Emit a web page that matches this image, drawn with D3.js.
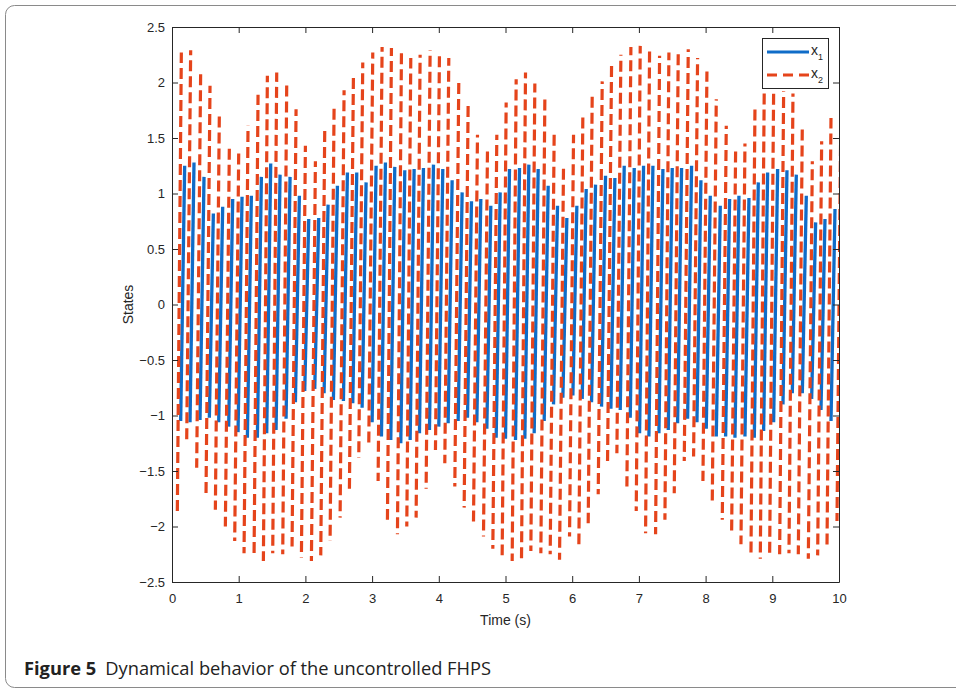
<!DOCTYPE html>
<html>
<head>
<meta charset="utf-8">
<script src="https://cdn.jsdelivr.net/npm/d3@7/dist/d3.min.js"></script>
<style>
  body { margin: 0; background: #fff; }
  text { font-family: "Liberation Sans", Arial, sans-serif; }
</style>
</head>
<body>
<svg id="chart" width="956" height="691"></svg>
<script>
// each fast swing of a state: time (s), top and bottom value
var x1Time = [0.16, 0.30, 0.45, 0.59, 0.73, 0.88, 1.02, 1.16, 1.31, 1.45, 1.59, 1.74, 1.88, 2.02, 2.17, 2.31, 2.45, 2.60, 2.74, 2.88, 3.03, 3.17, 3.31, 3.46, 3.60, 3.74, 3.89, 4.03, 4.17, 4.32, 4.46, 4.60, 4.75, 4.89, 5.03, 5.18, 5.32, 5.46, 5.61, 5.75, 5.89, 6.04, 6.18, 6.32, 6.47, 6.61, 6.75, 6.90, 7.04, 7.18, 7.33, 7.47, 7.61, 7.76, 7.90, 8.04, 8.19, 8.33, 8.47, 8.62, 8.76, 8.90, 9.05, 9.19, 9.33, 9.48, 9.62, 9.76, 9.91, 10.05];
var x1High = [1.25, 1.28, 1.15, 0.82, 0.88, 0.95, 0.97, 0.98, 1.15, 1.27, 1.17, 1.15, 0.98, 0.77, 0.78, 0.90, 1.07, 1.19, 1.19, 1.10, 1.25, 1.28, 1.24, 1.21, 1.22, 1.23, 1.26, 1.22, 1.12, 1.01, 0.93, 0.95, 0.89, 1.01, 1.22, 1.23, 1.26, 1.22, 1.07, 0.89, 0.78, 0.89, 1.04, 1.08, 1.16, 1.14, 1.25, 1.23, 1.25, 1.25, 1.22, 1.23, 1.23, 1.25, 1.12, 0.98, 0.89, 0.95, 0.98, 0.96, 1.10, 1.19, 1.22, 1.21, 1.17, 0.98, 0.74, 0.77, 0.86, 0.97];
var x1Low = [-1.05, -1.06, -1.04, -1.02, -1.06, -1.10, -1.15, -1.20, -1.20, -1.16, -1.13, -1.03, -0.88, -0.78, -0.76, -0.80, -0.86, -0.87, -0.89, -0.93, -1.06, -1.19, -1.22, -1.25, -1.22, -1.16, -1.13, -1.10, -1.07, -1.05, -1.02, -1.06, -1.12, -1.20, -1.21, -1.22, -1.21, -1.16, -1.05, -0.90, -0.84, -0.82, -0.85, -0.88, -0.92, -0.94, -0.95, -1.02, -1.16, -1.19, -1.16, -1.13, -1.07, -1.03, -1.06, -1.12, -1.19, -1.19, -1.20, -1.19, -1.20, -1.14, -1.06, -0.90, -0.80, -0.80, -0.85, -0.95, -1.05, -0.95];

var x2Time = [0.11, 0.25, 0.40, 0.54, 0.68, 0.83, 0.97, 1.11, 1.26, 1.40, 1.54, 1.69, 1.83, 1.97, 2.12, 2.26, 2.40, 2.55, 2.69, 2.83, 2.98, 3.12, 3.26, 3.41, 3.55, 3.69, 3.84, 3.98, 4.12, 4.27, 4.41, 4.55, 4.70, 4.84, 4.98, 5.13, 5.27, 5.41, 5.56, 5.70, 5.84, 5.99, 6.13, 6.27, 6.42, 6.56, 6.70, 6.85, 6.99, 7.13, 7.28, 7.42, 7.56, 7.71, 7.85, 7.99, 8.13, 8.28, 8.42, 8.56, 8.71, 8.85, 8.99, 9.14, 9.28, 9.42, 9.57, 9.71, 9.85, 10.00];
var x2High = [2.27, 2.29, 2.12, 1.97, 1.73, 1.43, 1.36, 1.61, 1.89, 2.06, 2.09, 1.99, 1.76, 1.43, 1.29, 1.58, 1.77, 1.93, 2.06, 2.18, 2.27, 2.32, 2.31, 2.27, 2.22, 2.25, 2.29, 2.26, 2.22, 2.03, 1.82, 1.53, 1.40, 1.53, 1.82, 2.03, 2.09, 1.99, 1.85, 1.56, 1.26, 1.53, 1.73, 1.89, 2.01, 2.15, 2.25, 2.32, 2.33, 2.29, 2.24, 2.27, 2.28, 2.30, 2.22, 2.10, 1.85, 1.61, 1.38, 1.45, 1.76, 2.00, 1.92, 1.92, 1.90, 1.62, 1.29, 1.47, 1.68, 1.85];
var x2Low = [-1.86, -1.25, -1.47, -1.70, -1.85, -2.00, -2.13, -2.24, -2.28, -2.31, -2.24, -2.25, -2.18, -2.28, -2.31, -2.26, -2.13, -1.92, -1.66, -1.38, -1.27, -1.59, -1.94, -2.07, -2.00, -1.92, -1.66, -1.31, -1.43, -1.64, -1.83, -1.97, -2.09, -2.20, -2.26, -2.31, -2.29, -2.22, -2.24, -2.25, -2.30, -2.09, -2.16, -1.97, -1.71, -1.41, -1.34, -1.64, -1.86, -2.06, -2.07, -1.94, -1.70, -1.41, -1.37, -1.59, -1.77, -1.94, -2.06, -2.16, -2.26, -2.29, -2.26, -2.25, -2.24, -2.25, -2.29, -2.26, -2.18, -1.95];

var xTicks = [0, 1, 2, 3, 4, 5, 6, 7, 8, 9, 10];
var yTicks = [-2.5, -2, -1.5, -1, -0.5, 0, 0.5, 1, 1.5, 2, 2.5];
var seriesNames = ["1", "2"];   // subscripts of x
var xTitle = "Time (s)";
var yTitle = "States";
var captionLabel = "Figure 5";
var captionText = "Dynamical behavior of the uncontrolled FHPS";

var blue = "#0f6cc8", red = "#e5441b";
var dashOn = 11, dashOff = 5;

var svg = d3.select("#chart");
var plotLeft = 172, plotRight = 839, plotTop = 27, plotBottom = 582;

var x = d3.scaleLinear().domain([0, 10]).range([plotLeft, plotRight]);
var y = d3.scaleLinear().domain([-2.5, 2.5]).range([plotBottom, plotTop]);

// figure frame
svg.append("rect")
    .attr("x", 5.5).attr("y", 5.5)
    .attr("width", 1000).attr("height", 682)
    .attr("rx", 9)
    .attr("fill", "none")
    .attr("stroke", "#8a8a8a")
    .attr("stroke-width", 1);

svg.append("clipPath").attr("id", "plotclip")
  .append("rect")
    .attr("x", plotLeft).attr("y", plotTop)
    .attr("width", plotRight - plotLeft).attr("height", plotBottom - plotTop);

// every swing is one stroke, rising slightly from bottom-left to top-right;
// the dash phase runs on from stroke to stroke like one long line
function swings(times, highs, lows) {
  var run = 0;
  return times.map(function(t, i) {
    var pts = [[t - 0.03, lows[i]], [t + 0.03, highs[i]]];
    var s = { pts: pts, offset: -run };
    run += Math.abs(y(lows[i]) - y(highs[i])) * 1.37;
    return s;
  });
}

var line = d3.line()
    .x(function(d) { return x(d[0]); })
    .y(function(d) { return y(d[1]); });

var lines = svg.append("g").attr("clip-path", "url(#plotclip)");

lines.append("g").selectAll("path")
    .data(swings(x1Time, x1High, x1Low))
    .join("path")
    .attr("d", function(d) { return line(d.pts); })
    .attr("fill", "none")
    .attr("stroke", blue)
    .attr("stroke-width", 3.3);

lines.append("g").selectAll("path")
    .data(swings(x2Time, x2High, x2Low))
    .join("path")
    .attr("d", function(d) { return line(d.pts); })
    .attr("fill", "none")
    .attr("stroke", red)
    .attr("stroke-width", 3.2)
    .attr("stroke-dasharray", dashOn + "," + dashOff)
    .attr("stroke-dashoffset", function(d) { return d.offset % (dashOn + dashOff); });

// axes, MATLAB style: ticks inside on all four sides
function styleAxis(g) {
  g.selectAll(".domain").attr("stroke", "#262626").attr("stroke-width", 1);
  g.selectAll(".tick line").attr("stroke", "#262626");
  g.selectAll(".tick text").attr("fill", "#262626")
    .style("font-family", "'Liberation Sans', Arial, sans-serif")
    .style("font-size", "13px");
}

svg.append("g")
    .attr("transform", "translate(0," + plotBottom + ")")
    .call(d3.axisBottom(x).tickValues(xTicks).tickSizeInner(-6).tickSizeOuter(0).tickPadding(12))
    .call(styleAxis);

svg.append("g")
    .attr("transform", "translate(0," + plotTop + ")")
    .call(d3.axisTop(x).tickValues(xTicks).tickSizeInner(-6).tickSizeOuter(0).tickFormat(""))
    .call(styleAxis);

svg.append("g")
    .attr("transform", "translate(" + plotLeft + ",0)")
    .call(d3.axisLeft(y).tickValues(yTicks).tickSizeInner(-6).tickSizeOuter(0).tickPadding(7)
      .tickFormat(function(d) { return d3.format("")(d); }))
    .call(styleAxis);

svg.append("g")
    .attr("transform", "translate(" + plotRight + ",0)")
    .call(d3.axisRight(y).tickValues(yTicks).tickSizeInner(-6).tickSizeOuter(0).tickFormat(""))
    .call(styleAxis);

// axis titles
svg.append("text")
    .attr("x", (plotLeft + plotRight) / 2).attr("y", 625)
    .attr("text-anchor", "middle")
    .attr("fill", "#262626")
    .style("font-size", "14px")
    .text(xTitle);

svg.append("text")
    .attr("transform", "translate(133," + ((plotTop + plotBottom) / 2) + ") rotate(-90)")
    .attr("text-anchor", "middle")
    .attr("fill", "#262626")
    .style("font-size", "14px")
    .text(yTitle);

// legend
var legend = svg.append("g");
legend.append("rect")
    .attr("x", 762.5).attr("y", 38.5)
    .attr("width", 66).attr("height", 50)
    .attr("fill", "#fff")
    .attr("stroke", "#262626");

var legendStyles = [
  { color: blue, dash: null, yy: 52 },
  { color: red, dash: "10,6", yy: 75 }
];
seriesNames.forEach(function(s, i) {
  var st = legendStyles[i];
  legend.append("line")
      .attr("x1", 767).attr("x2", 809)
      .attr("y1", st.yy).attr("y2", st.yy)
      .attr("stroke", st.color)
      .attr("stroke-width", 3)
      .attr("stroke-dasharray", st.dash);
  var t = legend.append("text")
      .attr("x", 811).attr("y", st.yy + 3)
      .attr("fill", "#262626")
      .style("font-size", "14px");
  t.append("tspan").text("x");
  t.append("tspan").attr("dy", 5).style("font-size", "9px").text(s);
});

// caption
var cap = svg.append("text")
    .attr("x", 24).attr("y", 675)
    .attr("fill", "#222")
    .style("font-family", "'Open Sans', 'Noto Sans', sans-serif")
    .style("font-size", "18.3px");
cap.append("tspan").style("font-weight", "bold").text(captionLabel);
cap.append("tspan").attr("dx", 9).text(captionText);
</script>
</body>
</html>
